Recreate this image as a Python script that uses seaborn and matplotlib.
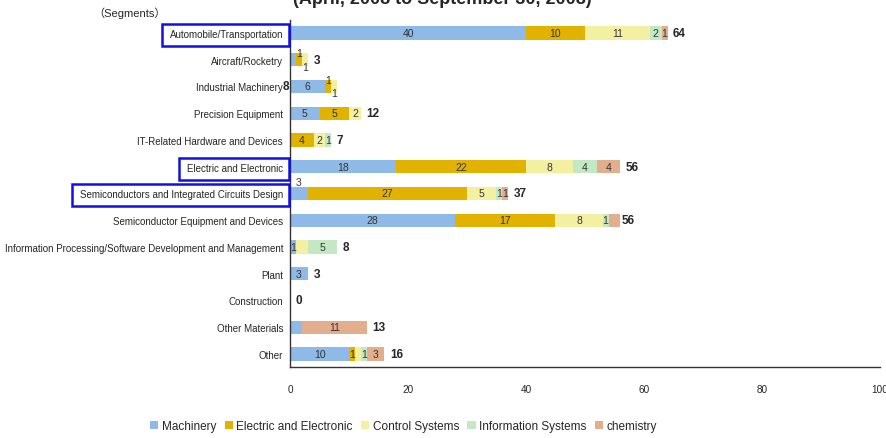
import matplotlib
matplotlib.use("Agg")
import matplotlib.pyplot as plt
import seaborn as sns
import pandas as pd
import numpy as np
from matplotlib.patches import Rectangle

# ---- data ----
categories = [
    "Automobile/Transportation",
    "Aircraft/Rocketry",
    "Industrial Machinery",
    "Precision Equipment",
    "IT-Related Hardware and Devices",
    "Electric and Electronic",
    "Semiconductors and Integrated Circuits Design",
    "Semiconductor Equipment and Devices",
    "Information Processing/Software Development and Management",
    "Plant",
    "Construction",
    "Other Materials",
    "Other",
]
series_names = ["Machinery", "Electric and Electronic", "Control Systems",
                "Information Systems", "chemistry"]
machinery = [40, 1, 6, 5, 0, 18, 3, 28, 1, 3, 0, 2, 10]
electric = [10, 1, 1, 5, 4, 22, 27, 17, 0, 0, 0, 0, 1]
control = [11, 1, 1, 2, 2, 8, 5, 8, 2, 0, 0, 0, 1]
information = [2, 0, 0, 0, 1, 4, 1, 1, 5, 0, 0, 0, 1]
chemistry = [1, 0, 0, 0, 0, 4, 1, 2, 0, 0, 0, 11, 3]
totals = [64, 3, 8, 12, 7, 56, 37, 56, 8, 3, 0, 13, 16]
x_ticks = [0, 20, 40, 60, 80, 100]
title_text = "(April, 2008 to September 30, 2008)"
unit_text = "（Segments）"
boxed_labels = ["Automobile/Transportation", "Electric and Electronic",
                "Semiconductors and Integrated Circuits Design"]

colors = ["#8fb9e6", "#e2b200", "#f4f0a2", "#c3e8c3", "#e2ae8e"]

# ---- styling ----
sns.set_style("white")
FONT = ["Liberation Sans", "Noto Sans CJK JP", "DejaVu Sans"]
plt.rcParams["font.family"] = FONT

fig = plt.figure(figsize=(8.87, 4.39), dpi=100)
ax = fig.add_axes([0.327, 0.161, 0.665, 0.792])

series = [machinery, electric, control, information, chemistry]
df = pd.DataFrame({"category": categories})
for name, vals in zip(series_names, series):
    df[name] = vals
cum = df[series_names].cumsum(axis=1)

# stacked bars: draw cumulative lengths from the longest down
for i in range(len(series_names) - 1, -1, -1):
    sns.barplot(data=pd.DataFrame({"category": categories, "value": cum.iloc[:, i]}),
                x="value", y="category", orient="h", color=colors[i],
                width=0.5, saturation=1, ax=ax, linewidth=0)

# segment value labels (a few tiny segments carry no label)
skip = {(1, 0), (7, 4), (8, 2), (11, 0), (12, 2)}
shift = {(1, 1): 5, (1, 2): -5, (2, 1): 5, (2, 2): -5, (6, 0): 8}
for r in range(len(categories)):
    for s in range(len(series_names)):
        v = series[s][r]
        if v == 0 or (r, s) in skip:
            continue
        xc = cum.iloc[r, s] - v / 2
        ax.annotate(str(v), (xc, r), xytext=(0, shift.get((r, s), 0)),
                    textcoords="offset points", ha="center", va="center",
                    fontsize=7.5, color="#333333")

# totals
for r, t in enumerate(totals):
    if r == 2:
        ax.annotate(str(t), (0, r), xytext=(-0.5, 0), textcoords="offset points",
                    ha="right", va="center", fontsize=8.5, fontweight="bold",
                    annotation_clip=False)
    else:
        dx = 1 if r == 7 else 4
        ax.annotate(str(t), (t, r), xytext=(dx, 0), textcoords="offset points",
                    ha="left", va="center", fontsize=8.5, fontweight="bold")

ax.set_xlim(0, 100)
ax.set_ylim(len(categories) - 0.5, -0.5)
ax.set_xticks(x_ticks)
ax.set_xticklabels([str(t) for t in x_ticks])
ax.set_xlabel("")
ax.set_ylabel("")
for side in ["top", "right"]:
    ax.spines[side].set_visible(False)
for side in ["left", "bottom"]:
    ax.spines[side].set_color("#333333")
    ax.spines[side].set_linewidth(1.0)
ax.tick_params(axis="x", direction="in", length=4, width=0.8, labelsize=7.2, pad=12,
               color="#333333")
ax.tick_params(axis="y", length=0, labelsize=7, pad=5)

# boxes round selected category labels
fig.canvas.draw()
renderer = fig.canvas.get_renderer()
inv = fig.transFigure.inverted()
ax_x0 = ax.get_window_extent(renderer).x0
for lab in ax.get_yticklabels():
    if lab.get_text() in boxed_labels:
        bb = lab.get_window_extent(renderer)
        x0, y0 = inv.transform((bb.x0 - 8, bb.y0 - 7))
        x1, y1 = inv.transform((ax_x0 - 1, bb.y1 + 5))
        fig.patches.append(Rectangle((x0, y0), x1 - x0, y1 - y0,
                                     transform=fig.transFigure, fill=False,
                                     edgecolor="#1010e0", linewidth=1.8))

# header texts
fig.text(0.33, 1 - 4 / 439, title_text, ha="left", va="baseline",
         fontsize=13, fontweight="bold")
fig.text(0.105, 1 - 13 / 439, unit_text, ha="left", va="center", fontsize=8)

# legend
handles = [Rectangle((0, 0), 1, 1, facecolor=c, edgecolor="none") for c in colors]
fig.legend(handles, series_names, loc="center", bbox_to_anchor=(0.455, 0.027),
           ncol=5, frameon=False, fontsize=8.5, handlelength=0.7, handleheight=0.7,
           handletextpad=0.3, columnspacing=0.7)

fig.savefig("out.png", dpi=100)
